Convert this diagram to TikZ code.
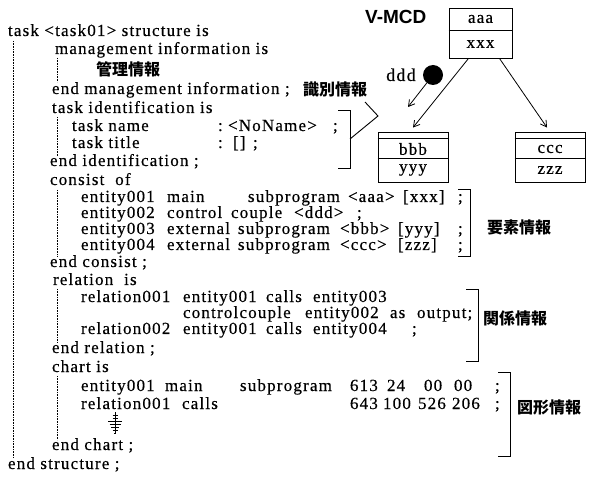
\documentclass[tikz,border=0pt]{standalone}
\usepackage{fontspec}
\setmainfont{Liberation Serif}[LetterSpace=7, FakeBold=0.4]
\newfontfamily\jpfont{Noto Sans CJK JP}
\newfontfamily\sansfnt{Liberation Sans}
\usetikzlibrary{arrows.meta}
\newcommand\Wrd[4]{\node[t] (#1) at (#2,#3) {#4};}
\begin{document}
\begin{tikzpicture}[x=1pt,y=-1pt,
  t/.style={anchor=base west, inner sep=0pt, outer sep=0pt, font=\fontsize{17}{18}\selectfont},
  jp/.style={anchor=base west, inner sep=0pt, outer sep=0pt, font=\jpfont\bfseries\fontsize{16}{16}\selectfont},
  dotline/.style={line width=0.7pt, dash pattern=on 0.7pt off 0.9pt},
  brk/.style={line width=0.9pt},
  arr/.style={line width=0.8pt, -{Straight Barb[length=6pt,width=7pt]}},
  boxs/.style={draw, line width=0.9pt, inner sep=0pt, minimum width=70pt, minimum height=50pt},
  btxt/.style={inner sep=0pt, font=\fontsize{17}{18}\selectfont}]
\useasboundingbox (0,0) rectangle (592,489);
% ---- listing ----
\Wrd{l1}{8}{36}{task <task01> structure is}
\Wrd{l2}{55}{54}{management information is}
\node[jp] (l3) at (96,76) {管理情報};
\Wrd{l4}{52}{94}{end management information ;}
\Wrd{l5}{52}{113}{task identification is}
\Wrd{l6a}{72}{131}{task name}
\Wrd{l6b}{218}{131}{:}
\Wrd{l6c}{228}{131}{<NoName>}
\Wrd{l6d}{333}{131}{;}
\Wrd{l7a}{72}{148}{task title}
\Wrd{l7b}{218}{148}{:}
\Wrd{l7c}{233}{148}{[]}
\Wrd{l7d}{253}{148}{;}
\Wrd{l8}{50}{166}{end identification ;}
\Wrd{l9}{50}{185}{consist\ \ of}
\Wrd{e1a}{81}{202}{entity001}
\Wrd{e1b}{167}{202}{main}
\Wrd{e1c}{248}{202}{subprogram}
\Wrd{e1d}{348}{202}{<aaa>}
\Wrd{e1e}{403}{202}{[xxx]}
\Wrd{e1f}{458}{202}{;}
\Wrd{e2a}{81}{218}{entity002}
\Wrd{e2b}{167}{218}{control}
\Wrd{e2c}{231}{218}{couple}
\Wrd{e2d}{294}{218}{<ddd>}
\Wrd{e2e}{357}{218}{;}
\Wrd{e3a}{81}{234}{entity003}
\Wrd{e3b}{167}{234}{external}
\Wrd{e3c}{238}{234}{subprogram}
\Wrd{e3d}{340}{234}{<bbb>}
\Wrd{e3e}{398}{234}{[yyy]}
\Wrd{e3f}{458}{234}{;}
\Wrd{e4a}{81}{250}{entity004}
\Wrd{e4b}{167}{250}{external}
\Wrd{e4c}{238}{250}{subprogram}
\Wrd{e4d}{340}{250}{<ccc>}
\Wrd{e4e}{398}{250}{[zzz]}
\Wrd{e4f}{458}{250}{;}
\Wrd{l14}{50}{267}{end consist ;}
\Wrd{l15}{53}{285}{relation\ \ is}
\Wrd{r1a}{81}{302}{relation001}
\Wrd{r1b}{183}{302}{entity001}
\Wrd{r1c}{266}{302}{calls}
\Wrd{r1d}{313}{302}{entity003}
\Wrd{r2a}{183}{318}{controlcouple}
\Wrd{r2b}{305}{318}{entity002}
\Wrd{r2c}{390}{318}{as}
\Wrd{r2d}{417}{318}{output;}
\Wrd{r3a}{81}{334}{relation002}
\Wrd{r3b}{183}{334}{entity001}
\Wrd{r3c}{266}{334}{calls}
\Wrd{r3d}{313}{334}{entity004}
\Wrd{r3e}{412}{334}{;}
\Wrd{l19}{52}{353}{end relation ;}
\Wrd{l20}{52}{372}{chart is}
\Wrd{c1a}{81}{391}{entity001}
\Wrd{c1b}{165}{391}{main}
\Wrd{c1c}{240}{391}{subprogram}
\Wrd{c1d}{350}{391}{613}
\Wrd{c1e}{387}{391}{24}
\Wrd{c1f}{424}{391}{00}
\Wrd{c1g}{454}{391}{00}
\Wrd{c1h}{495}{391}{;}
\Wrd{c2a}{81}{409}{relation001}
\Wrd{c2b}{182}{409}{calls}
\Wrd{c2c}{350}{409}{643}
\Wrd{c2d}{383}{409}{100}
\Wrd{c2e}{418}{409}{526}
\Wrd{c2f}{452}{409}{206}
\Wrd{c2g}{495}{409}{;}
\Wrd{l24}{52}{450}{end chart ;}
\Wrd{l25}{8}{469}{end structure ;}
% ---- continuation symbol ----
\draw[line width=0.6pt] (115,412) -- (115,434);
\foreach \yy/\ww in {415/2.5, 418/2.5, 421/7, 424/5.5, 427/4, 430/2.5, 433/1}
  \draw[line width=0.6pt] (115-\ww,\yy) -- (115+\ww,\yy);
% ---- dotted guide lines ----
\draw[dotline] (13,41) -- (13,458);
\draw[dotline] (57,58) -- (57,82);
\draw[dotline] (57,117) -- (57,156);
\draw[dotline] (57,190) -- (57,256);
\draw[dotline] (57,289) -- (57,343);
\draw[dotline] (57,376) -- (57,440);
% ---- brackets ----
\draw[brk] (338,110) -- (350,110) -- (350,168) -- (338,168);
\draw[brk] (350,139) -- (378,116) -- (365,102);
\draw[brk] (458,189) -- (470,189) -- (470,256) -- (458,256);
\draw[brk] (466,289) -- (478,289) -- (478,361) -- (466,361);
\draw[brk] (498,372) -- (510,372) -- (510,456) -- (498,456);
% ---- labels ----
\node[jp] (lid) at (303,96) {識別情報};
\node[jp] (lel) at (487,234) {要素情報};
\node[jp] (lrel) at (483,324) {関係情報};
\node[jp] (lfig) at (517,413) {図形情報};
% ---- V-MCD diagram ----
\node[anchor=base west, inner sep=0pt, font=\sansfnt\bfseries\fontsize{19}{20}\selectfont] (vmcd) at (365,24) {V-MCD};
\node[boxs, minimum width=63pt] (A) at (480.5,33) {};
\draw[line width=0.9pt] (A.west |- 0,30) -- (A.east |- 0,30);
\node[btxt] (Aa) at (480.5,19) {aaa};
\node[btxt] (Ax) at (480.5,44) {xxx};
\node[boxs] (B) at (413,157) {};
\draw[line width=0.9pt] (B.west |- 0,138) -- (B.east |- 0,138);
\draw[line width=0.9pt] (B.west |- 0,158) -- (B.east |- 0,158);
\node[btxt] (Bb) at (413,149) {bbb};
\node[btxt] (By) at (413,170) {yyy};
\node[boxs] (C) at (550,157) {};
\draw[line width=0.9pt] (C.west |- 0,138) -- (C.east |- 0,138);
\draw[line width=0.9pt] (C.west |- 0,158) -- (C.east |- 0,158);
\node[btxt] (Cc) at (550,149) {ccc};
\node[btxt] (Cz) at (550,170) {zzz};
\node[anchor=base west, inner sep=0pt, font=\fontsize{18}{18}\selectfont] (ddd) at (386,81) {ddd};
\node[circle, fill, inner sep=0pt, minimum size=20pt] (dot) at (433,75) {};
\coordinate (ddtip) at (408,107);
\draw[arr] (dot) -- (ddtip);
\draw[arr] ([xshift=-12pt]A.south) -- ([yshift=4pt]B.north);
\draw[arr] ([xshift=19pt]A.south) -- ([xshift=-3pt,yshift=4pt]C.north);
\end{tikzpicture}
\end{document}
